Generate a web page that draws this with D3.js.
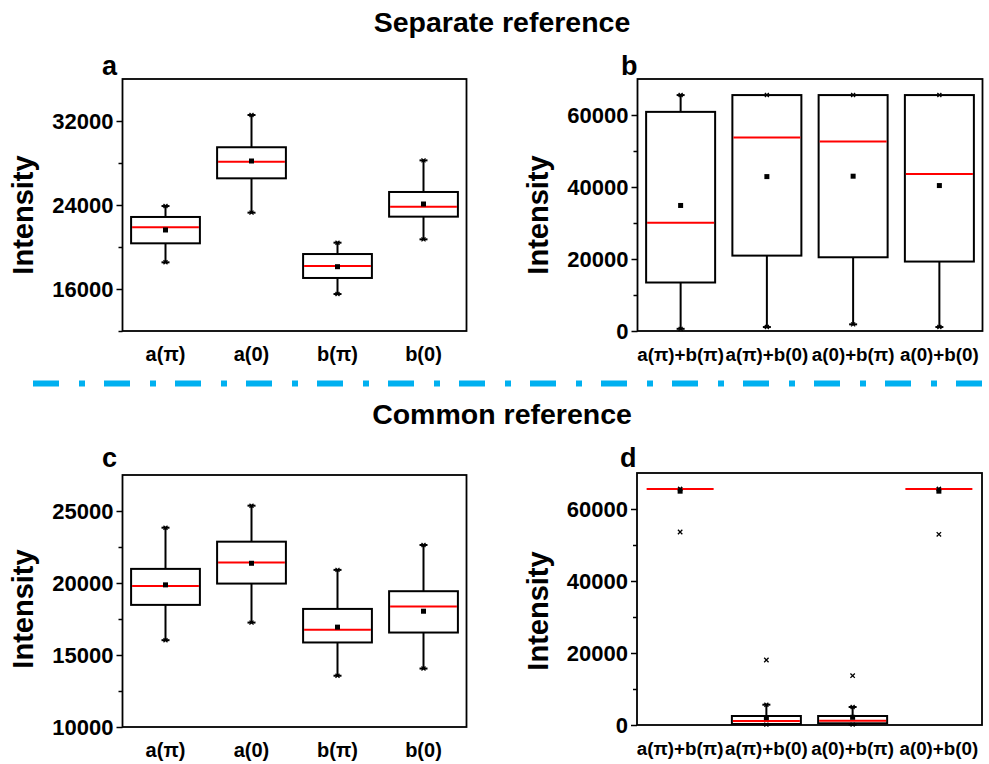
<!DOCTYPE html>
<html>
<head>
<meta charset="utf-8">
<script src="https://cdn.jsdelivr.net/npm/d3@7/dist/d3.min.js"></script>
<style>
  html, body { margin: 0; padding: 0; background: #fff; }
  svg { display: block; font-family: "Liberation Sans", Arial, sans-serif; font-weight: bold; }
</style>
</head>
<body>
<svg id="chart" width="989" height="764"></svg>
<script>
// Categories
const singleCats = ["a(π)", "a(0)", "b(π)", "b(0)"];
const pairCats = ["a(π)+b(π)", "a(π)+b(0)", "a(0)+b(π)", "a(0)+b(0)"];

// Panel a: separate reference, single spots
const aLow    = [18540, 23270, 15520, 20730];
const aQ1     = [20350, 26540, 17050, 22890];
const aMedian = [21880, 28120, 18190, 23840];
const aQ3     = [22860, 29500, 19330, 25240];
const aHigh   = [23900, 32570, 20410, 28250];
const aMean   = [21620, 28190, 18125, 24095];
const aOut    = [[], [], [], []];

// Panel b: separate reference, pairs
const bLow    = [600, 1100, 1850, 1100];
const bQ1     = [13470, 20940, 20480, 19290];
const bMedian = [30080, 53770, 52660, 43640];
const bQ3     = [60870, 65535, 65535, 65535];
const bHigh   = [65535, 65535, 65535, 65535];
const bMean   = [34870, 42890, 43000, 40400];
const bOut    = [[], [], [], []];

// Panel c: common reference, single spots
const cLow    = [16030, 17250, 13560, 14060];
const cQ1     = [18480, 19960, 15870, 16560];
const cMedian = [19800, 21415, 16750, 18360];
const cQ3     = [20980, 22870, 18200, 19430];
const cHigh   = [23840, 25370, 20910, 22640];
const cMean   = [19870, 21370, 16935, 18040];
const cOut    = [[], [], [], []];

// Panel d: common reference, pairs
const dLow    = [65535, 100, 100, 65535];
const dQ1     = [65535, 280, 470, 65535];
const dMedian = [65535, 1100, 1200, 65535];
const dQ3     = [65535, 2500, 2500, 65535];
const dHigh   = [65535, 5640, 5000, 65535];
const dMean   = [64950, 2030, 2140, 64950];
const dOut    = [[53610], [18050], [13700], [52970]];

// Axis ticks
const aTicks = [16000, 24000, 32000];
const aMinor = [12000, 20000, 28000];
const bTicks = [0, 20000, 40000, 60000];
const bMinor = [10000, 30000, 50000];
const cTicks = [10000, 15000, 20000, 25000];
const cMinor = [12500, 17500, 22500];
const dTicks = [0, 20000, 40000, 60000];
const dMinor = [10000, 30000, 50000];

const svg = d3.select("#chart");

// Section titles
svg.append("text").attr("x", 502).attr("y", 32).attr("text-anchor", "middle")
  .attr("font-size", 28.5).text("Separate reference");
svg.append("text").attr("x", 502).attr("y", 424).attr("text-anchor", "middle")
  .attr("font-size", 28.5).text("Common reference");

// Dash-dot divider
svg.append("line").attr("x1", 33).attr("x2", 989).attr("y1", 383.5).attr("y2", 383.5)
  .attr("stroke", "#00B0F0").attr("stroke-width", 6)
  .attr("stroke-dasharray", "26 20 6 19");

function xMark(g, cx, cy, s) {
  g.append("path")
    .attr("d", `M${cx - s},${cy - s}L${cx + s},${cy + s}M${cx - s},${cy + s}L${cx + s},${cy - s}`)
    .attr("stroke", "#000").attr("stroke-width", 1.3).attr("fill", "none");
}

function drawPanel(cfg) {
  const { left, right, top, bottom } = cfg.frame;
  const x = d3.scaleBand().domain(cfg.cats).range([left, right]).padding(0);
  const y = d3.scaleLinear().domain(cfg.domain).range([bottom, top]);
  const g = svg.append("g");

  // minor ticks
  g.append("g").attr("transform", `translate(${left},0)`)
    .call(d3.axisLeft(y).tickValues(cfg.minor).tickSize(4).tickFormat(""))
    .call(s => s.select(".domain").remove())
    .call(s => s.selectAll("line").attr("stroke-width", 1.5));

  // major ticks and labels
  g.append("g").attr("transform", `translate(${left},0)`)
    .call(d3.axisLeft(y).tickValues(cfg.ticks).tickSize(6).tickPadding(3).tickFormat(d3.format("d")))
    .call(s => s.select(".domain").remove())
    .call(s => s.selectAll("line").attr("stroke-width", 1.5))
    .call(s => s.selectAll("text").attr("font-size", 22).attr("font-weight", "bold")
      .attr("font-family", "Liberation Sans, Arial, sans-serif").attr("fill", "#000"));

  // category labels
  g.append("g").selectAll("text").data(cfg.cats).join("text")
    .attr("x", d => x(d) + x.bandwidth() / 2)
    .attr("y", bottom + 30)
    .attr("text-anchor", "middle")
    .attr("font-size", cfg.labelSize)
    .text(d => d);

  // frame
  g.append("rect").attr("x", left).attr("y", top)
    .attr("width", right - left).attr("height", bottom - top)
    .attr("fill", "none").attr("stroke", "#000").attr("stroke-width", 1.8);

  const bw = x.bandwidth() * 0.8;
  const cap = 4;
  cfg.cats.forEach((c, i) => {
    const cx = x(c) + x.bandwidth() / 2;
    const s = cfg.series;
    const yl = y(s.low[i]), yq1 = y(s.q1[i]), ym = y(s.median[i]);
    const yq3 = y(s.q3[i]), yh = y(s.high[i]), ymean = y(s.mean[i]);
    const st = { stroke: "#000", "stroke-width": 2 };
    const line = (x1, y1, x2, y2, attrs) => {
      const l = g.append("line").attr("x1", x1).attr("y1", y1).attr("x2", x2).attr("y2", y2);
      Object.entries(attrs).forEach(([k, v]) => l.attr(k, v));
    };
    // whiskers
    if (yl - yq1 > 0.5) { line(cx, yq1, cx, yl, st); line(cx - cap, yl, cx + cap, yl, st); }
    if (yq3 - yh > 0.5) { line(cx, yq3, cx, yh, st); line(cx - cap, yh, cx + cap, yh, st); }
    // box
    g.append("rect").attr("x", cx - bw / 2).attr("y", yq3)
      .attr("width", bw).attr("height", Math.max(0, yq1 - yq3))
      .attr("fill", "none").attr("stroke", "#000").attr("stroke-width", 2);
    // median
    line(cx - bw / 2 + 1, ym, cx + bw / 2 - 1, ym, { stroke: "#FF0000", "stroke-width": 2 });
    // min / max markers
    xMark(g, cx, yl, 2);
    xMark(g, cx, yh, 2);
    // mean
    g.append("rect").attr("x", cx - 2.5).attr("y", ymean - 2.5)
      .attr("width", 5).attr("height", 5).attr("fill", "#000");
    // outliers
    s.out[i].forEach(v => xMark(g, cx, y(v), 2.2));
  });

  // panel letter
  svg.append("text").attr("x", cfg.letterPos[0]).attr("y", cfg.letterPos[1])
    .attr("font-size", 27).text(cfg.letter);

  // axis title
  svg.append("text")
    .attr("transform", `translate(${cfg.titlePos[0]},${cfg.titlePos[1]}) rotate(-90)`)
    .attr("text-anchor", "middle").attr("font-size", 29).text("Intensity");
}

drawPanel({
  letter: "a", letterPos: [102, 75], titlePos: [33, 215], labelSize: 20,
  frame: { left: 122.5, right: 466.5, top: 79, bottom: 331 },
  cats: singleCats, domain: [12000, 36000], ticks: aTicks, minor: aMinor,
  series: { low: aLow, q1: aQ1, median: aMedian, q3: aQ3, high: aHigh, mean: aMean, out: aOut }
});
drawPanel({
  letter: "b", letterPos: [621, 75], titlePos: [548, 215], labelSize: 18.8,
  frame: { left: 637.5, right: 982.5, top: 79, bottom: 331 },
  cats: pairCats, domain: [0, 70000], ticks: bTicks, minor: bMinor,
  series: { low: bLow, q1: bQ1, median: bMedian, q3: bQ3, high: bHigh, mean: bMean, out: bOut }
});
drawPanel({
  letter: "c", letterPos: [102, 467], titlePos: [33, 609], labelSize: 20,
  frame: { left: 122.5, right: 466.5, top: 475, bottom: 727 },
  cats: singleCats, domain: [10000, 27500], ticks: cTicks, minor: cMinor,
  series: { low: cLow, q1: cQ1, median: cMedian, q3: cQ3, high: cHigh, mean: cMean, out: cOut }
});
drawPanel({
  letter: "d", letterPos: [620, 467], titlePos: [548, 611], labelSize: 18.8,
  frame: { left: 637, right: 982, top: 473, bottom: 725 },
  cats: pairCats, domain: [0, 70000], ticks: dTicks, minor: dMinor,
  series: { low: dLow, q1: dQ1, median: dMedian, q3: dQ3, high: dHigh, mean: dMean, out: dOut }
});
</script>
</body>
</html>
